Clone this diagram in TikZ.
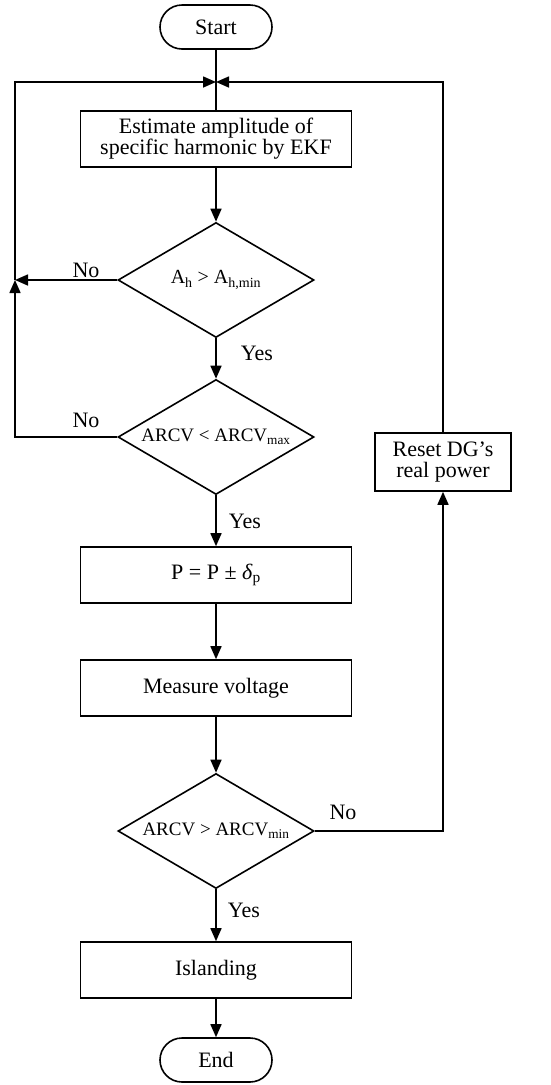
\documentclass[tikz,border=0pt]{standalone}
\usepackage{fontspec}
\setmainfont{Liberation Serif}
\usetikzlibrary{arrows.meta,shapes.geometric}
\begin{document}
\begin{tikzpicture}[x=1pt,y=-1pt,
  every node/.style={font=\fontsize{22}{25}\selectfont},
  base/.style={draw, line width=1.6pt, inner sep=2pt, align=center},
  term/.style={base, rectangle, rounded corners=22pt, minimum width=112pt, minimum height=44pt},
  proc/.style={base, rectangle, minimum width=271pt, minimum height=56pt},
  dec/.style={base, diamond, minimum width=196pt, minimum height=115pt, inner sep=0pt},
  dtext/.style={font=\fontsize{19}{21}\selectfont, inner sep=0pt},
  conn/.style={line width=1.6pt},
  arr/.style={conn, -{Triangle[length=13pt,width=11pt]}},
  lbl/.style={inner sep=0pt}
]
\useasboundingbox (0,0) rectangle (551,1085);
\node[term] (start) at (216,27) {Start};
\coordinate (merge) at (216,82);
\node[proc] (est) at (216,139) {Estimate amplitude of\\[-4pt]specific harmonic by EKF};
\node[dec, label={[dtext, font=\fontsize{20}{22}\selectfont]center:A\textsubscript{h} > A\textsubscript{h,min}}] (d1) at (216,280) {};
\node[dec, label={[dtext]center:ARCV < ARCV\textsubscript{max}}] (d2) at (216,437) {};
\node[proc] (pbox) at (216,575) {P = P ± \textit{δ}\textsubscript{p}};
\node[proc] (meas) at (216,688) {Measure voltage};
\node[dec, label={[dtext]center:ARCV > ARCV\textsubscript{min}}] (d3) at (216,831) {};
\node[proc] (isl) at (216,970) {Islanding};
\node[term] (end) at (216,1060) {End};
\node[base, rectangle, minimum width=136pt, minimum height=58pt] (reset) at (443,462) {Reset DG’s\\[-4pt]real power};

\coordinate (L1) at (15,280);
\coordinate (L2) at (15,437);
\coordinate (LT) at (15,82);
\coordinate (R1) at (443,831);
\coordinate (RT) at (443,82);

\draw[conn] (start.south) -- (merge);
\draw[conn] (merge) -- (est.north);
\draw[arr] (est) -- (d1);
\draw[arr] (d1.west) -- (L1);
\draw[arr] (d2.west) -- (L2) -- (L1);
\draw[arr] (L1) -- (LT) -- (merge);
\draw[arr] (d1) -- (d2);
\draw[arr] (d2) -- (pbox);
\draw[arr] (pbox) -- (meas);
\draw[arr] (meas) -- (d3);
\draw[arr] (d3.east) -- (R1) -- (reset.south);
\draw[arr] (reset.north) -- (RT) -- (merge);
\draw[arr] (d3) -- (isl);
\draw[arr] (isl) -- (end);

\node[lbl] (no1) at (86,270) {No};
\node[lbl] (no2) at (86,420) {No};
\node[lbl] (no3) at (343,812) {No};
\node[lbl] (yes1) at (257,353) {Yes};
\node[lbl] (yes2) at (245,521) {Yes};
\node[lbl] (yes3) at (244,910) {Yes};
\end{tikzpicture}
\end{document}
